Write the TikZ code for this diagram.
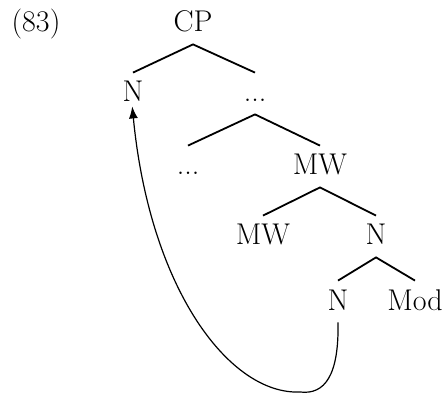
\documentclass[tikz,border=0pt]{standalone}
\usetikzlibrary{arrows.meta}
\begin{document}
\begin{tikzpicture}[
      x=0.5pt, y=-0.5pt,
      cat/.style={font=\fontsize{15}{18}\selectfont, text height=10.5pt, text depth=2pt, inner xsep=1pt, inner ysep=4pt},
      ramo/.style={line width=0.9pt},
      movimento/.style={-{Latex[length=6pt,width=4.5pt]}, line width=0.6pt, shorten >=-4pt}
  ]
    \useasboundingbox (0,0) rectangle (448,394);

    \node [cat, anchor=base] (ex) at (36,32) {(83)};

    \node [cat] (cp) at (193,23.5) {CP};
    \node [cat] (nalto) at (133,93.5) {N};
    \node [cat] (pontos) at (255,93.5) {...};
    \node [cat] (pontosb) at (188,166.5) {...};
    \node [cat] (mw) at (320,166.5) {MW};
    \node [cat] (mwb) at (263,236.5) {MW};
    \node [cat] (nmeio) at (376,236.5) {N};
    \node [cat] (nbaixo) at (338,301.5) {N};
    \node [cat] (mod) at (415,301.5) {Mod};

    % Ramos
    \draw [ramo] (nalto.north) -- (cp.south) -- (pontos.north);
    \draw [ramo] (pontosb.north) -- (pontos.south) -- (mw.north);
    \draw [ramo] (mwb.north) -- (mw.south) -- (nmeio.north);
    \draw [ramo] (nbaixo.north) -- (nmeio.south) -- (mod.north);

    % Movimento do N
    \coordinate (fundo) at (300,392);
    \draw [movimento] (nbaixo.south) .. controls (339,375) and (325,395) .. (fundo)
      .. controls (230,395) and (150,290) .. (nalto.south);
\end{tikzpicture}
\end{document}
